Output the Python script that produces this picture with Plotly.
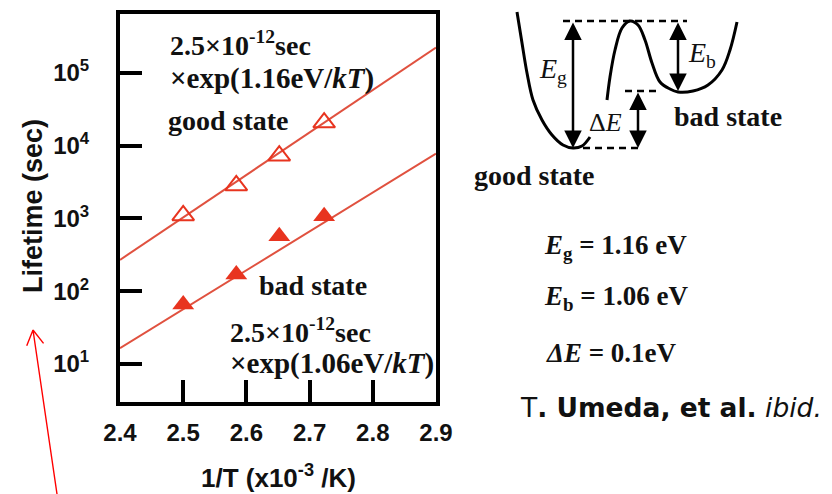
import math
import plotly.graph_objects as go

W, H = 832, 494

# Lifetimes of the two defect states versus inverse temperature
inv_T = [2.50, 2.584, 2.652, 2.723]          # 1/T in 1e-3 /K
tau_good = [1100, 2850, 7300, 20800]         # s, good state (open)
tau_bad = [66, 170, 570, 1070]               # s, bad state (filled)

# Arrhenius fit parameters quoted on the chart
E_g = 1.16            # eV
E_b = 1.06            # eV
dE = 0.1              # eV

fit_x = [2.4, 2.9]
fit_good = [270, 224000]     # lifetime at the axis ends for E_g
fit_bad = [16.5, 7800]       # lifetime at the axis ends for E_b

x_ticks = [2.4, 2.5, 2.6, 2.7, 2.8, 2.9]
y_ticks = [1e1, 1e2, 1e3, 1e4, 1e5]
y_ticktext = ["10<sup>1</sup>", "10<sup>2</sup>", "10<sup>3</sup>",
              "10<sup>4</sup>", "10<sup>5</sup>"]

# Configuration-coordinate sketch (canvas units, y pointing down)
good_well_x = [517, 522, 527, 533, 542, 552, 563, 573, 582, 590]
good_well_y = [12, 43, 73, 100, 120, 135, 145, 148, 146, 137]
bad_well_x = [607, 610, 615, 622, 630, 638, 645, 652, 660, 670, 678, 693, 708, 722, 730, 737]
bad_well_y = [100, 77, 50, 28, 21, 25, 40, 63, 82, 89, 92, 91, 85, 70, 50, 22]
level_barrier, level_bad, level_good = 21, 91, 148

# red pointer: tail and tip in canvas units
pointer_tail = (57, 494)
pointer_tip = (33, 330)

RED_LINE = "#e0513f"
RED_MARK = "#e8341f"
SERIF = "Liberation Serif, Times New Roman, serif"
SANS = "DejaVu Sans, Arial, sans-serif"
ARIAL = "Liberation Sans, Arial, sans-serif"

# plot-area box in pixels
L, R, T, B = 120, 436, 14, 402

fig = go.Figure()

fig.add_trace(go.Scatter(x=fit_x, y=fit_good, mode="lines",
                         line=dict(color=RED_LINE, width=2), showlegend=False))
fig.add_trace(go.Scatter(x=fit_x, y=fit_bad, mode="lines",
                         line=dict(color=RED_LINE, width=2), showlegend=False))
fig.add_trace(go.Scatter(x=inv_T, y=tau_good, mode="markers", cliponaxis=False,
                         marker=dict(symbol="triangle-up-open", size=19,
                                     color=RED_MARK, line=dict(width=2, color=RED_MARK)),
                         showlegend=False))
fig.add_trace(go.Scatter(x=inv_T, y=tau_bad, mode="markers", cliponaxis=False,
                         marker=dict(symbol="triangle-up", size=19, color=RED_MARK,
                                     line=dict(width=0)),
                         showlegend=False))

# sketch traces on a full-canvas overlay
for wx, wy in [(good_well_x, good_well_y), (bad_well_x, bad_well_y)]:
    fig.add_trace(go.Scatter(x=wx, y=wy, mode="lines", xaxis="x2", yaxis="y2",
                             line=dict(color="black", width=3, shape="spline", smoothing=1),
                             showlegend=False, cliponaxis=False))

# open-V pointer: shaft plus two arms at +-30 deg around the shaft direction
tx, ty = pointer_tip
sx, sy = pointer_tail
ang = math.atan2(sy - ty, sx - tx)
arm = 17
arms = [(tx + arm * math.cos(ang + d), ty + arm * math.sin(ang + d))
        for d in (math.radians(30), math.radians(-30))]
px = [sx, tx, arms[0][0], None, tx, arms[1][0]]
py = [sy, ty, arms[0][1], None, ty, arms[1][1]]
fig.add_trace(go.Scatter(x=px, y=py, mode="lines", xaxis="x2", yaxis="y2",
                         line=dict(color="red", width=1.4), cliponaxis=False,
                         showlegend=False))

fig.update_layout(
    width=W, height=H,
    margin=dict(l=0, r=0, t=0, b=0, autoexpand=False),
    paper_bgcolor="white", plot_bgcolor="rgba(0,0,0,0)",
    xaxis=dict(domain=[L / W, R / W], range=[2.4, 2.9], tickvals=x_ticks,
               ticktext=[f"{v:.1f}" for v in x_ticks], automargin=False,
               showline=True, mirror=True, linecolor="black", linewidth=4,
               ticks="inside", ticklen=22, tickwidth=4, tickcolor="black",
               showgrid=False, zeroline=False, ticklabelstandoff=6,
               tickfont=dict(family=ARIAL, size=24, color="#111", weight="bold")),
    yaxis=dict(domain=[1 - B / H, 1 - T / H], type="log", range=[0.478, 5.81],
               tickvals=y_ticks, ticktext=y_ticktext, automargin=False,
               showline=True, mirror=True, linecolor="black", linewidth=4,
               ticks="inside", ticklen=22, tickwidth=4, tickcolor="black",
               showgrid=False, zeroline=False, ticklabelstandoff=22,
               tickfont=dict(family=ARIAL, size=24, color="#111", weight="bold")),
    xaxis2=dict(domain=[0, 1], range=[0, W], visible=False, anchor="y2",
                automargin=False),
    yaxis2=dict(domain=[0, 1], range=[H, 0], visible=False, anchor="x2",
                automargin=False),
)

# dashed energy levels
for x0, x1, yl in [(563, 687, level_barrier), (625, 660, level_bad), (583, 638, level_good)]:
    fig.add_shape(type="line", xref="x2", yref="y2", x0=x0, x1=x1, y0=yl, y1=yl,
                  line=dict(color="black", width=2.5, dash="7px,5px"))

# double-headed energy arrows
for xa, y_top, y_bot in [(573, level_barrier, level_good),
                         (678, level_barrier, level_bad),
                         (638, level_bad, level_good)]:
    fig.add_annotation(x=xa, y=y_bot, ax=xa, ay=y_top, xref="x2", yref="y2",
                       axref="x2", ayref="y2", text="", showarrow=True,
                       arrowhead=2, startarrowhead=2, arrowside="end+start",
                       arrowsize=1.4, startarrowsize=1.4, arrowwidth=2.5,
                       arrowcolor="black", standoff=0, startstandoff=0)


def label(x, y, text, size, family=SERIF, bold=True, anchor="left", angle=0):
    fig.add_annotation(x=x, y=y, xref="x2", yref="y2", text=text, showarrow=False,
                       xanchor=anchor, yanchor="middle", textangle=angle,
                       font=dict(family=family, size=size, color="#111",
                                 weight="bold" if bold else "normal"))


fit_top = f"×exp({E_g:.2f}eV/<i>kT</i>)"
fit_bot = f"×exp({E_b:.2f}eV/<i>kT</i>)"
pref = "2.5×10<sup>-12</sup>sec"

label(168, 43, pref, 28)
label(168, 78, fit_top, 29)
label(166, 120, "good state", 28)
label(257, 285, "bad state", 28)
label(228, 330, pref, 28)
label(228, 363, fit_bot, 29)

# axis titles
label(278, 476, "1/T (x10<sup>-3</sup> /K)", 26, family=ARIAL, anchor="center")
label(33, 206, "Lifetime (sec)", 27, family=ARIAL, anchor="center", angle=-90)

# sketch labels
label(537, 70, "<i>E</i><sub>g</sub>", 28, bold=False)
label(686, 54, "<i>E</i><sub>b</sub>", 28, bold=False)
label(587, 122, "Δ<i>E</i>", 26, bold=False)
label(672, 116, "bad state", 28)
label(472, 175, "good state", 28)

# parameter list
label(542, 247, f"<i>E</i><sub>g</sub> = {E_g:.2f} eV", 27)
label(542, 298, f"<i>E</i><sub>b</sub> = {E_b:.2f} eV", 27)
label(544, 353, f"<i>ΔE</i> = {dE:.1f}eV", 27)

label(518, 407, "T<b>. Umeda, et al.</b> <i>ibid.</i>", 26.5, family=SANS, bold=False)

fig.write_html("out.html")
